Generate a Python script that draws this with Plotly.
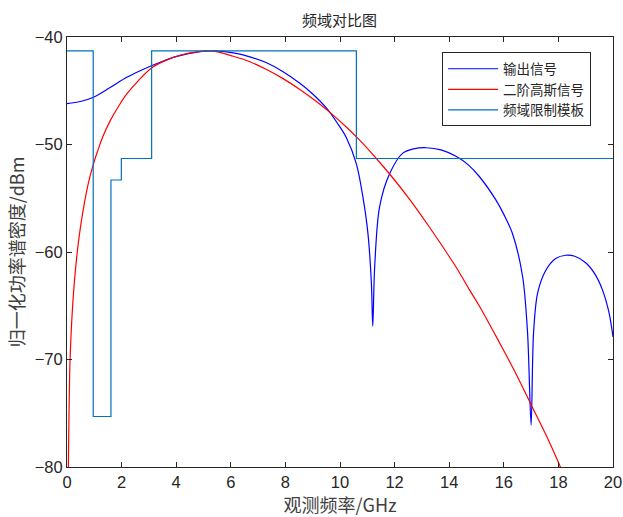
import plotly.graph_objects as go

# Output signal (blue)
out_f = [0, 0.49, 0.97, 1.58, 2.19, 2.8, 3.41, 4.02, 4.87, 5.35, 6.09, 6.7, 7.31, 7.9, 8.53, 9.0,
         9.5, 9.9, 10.23, 10.6, 10.84, 11.02, 11.15, 11.2, 11.27, 11.45, 11.82, 12.3, 12.7, 13.16,
         13.7, 14.25, 14.7, 15.11, 15.72, 16.0, 16.32, 16.69, 16.87, 17.0, 17.09, 17.24, 17.54,
         17.9, 18.27, 18.6, 19.0, 19.35, 19.61, 19.85, 20.0]
out_db = [-46.2, -46.0, -45.6, -44.7, -43.75, -43.0, -42.35, -41.8, -41.36, -41.3, -41.48, -41.85,
          -42.4, -43.2, -44.3, -45.3, -46.6, -48.0, -49.35, -51.8, -54.9, -58.2, -62.9, -66.9,
          -61.4, -55.8, -52.7, -50.8, -50.4, -50.3, -50.5, -51.1, -51.9, -53.0, -55.2, -56.5,
          -58.3, -62.3, -67.5, -76.1, -67.5, -63.8, -61.7, -60.6, -60.3, -60.4, -61.0, -62.1,
          -63.5, -65.6, -67.9]

# Second-order Gaussian (red)
gau_f = [0.03, 0.05, 0.08, 0.11, 0.17, 0.26, 0.38, 0.47, 0.56, 0.73, 0.85, 0.97, 1.11, 1.3,
         1.58, 1.9, 2.19, 2.6, 3.11, 3.6, 4.14, 4.7, 5.3, 6.09, 6.7, 7.31, 7.9, 8.53, 9.1, 9.62,
         10.2, 10.72, 11.33, 11.9, 12.55, 13.28, 13.89, 14.3, 14.74, 15.11, 15.6, 16.08, 16.5,
         17.0, 17.6, 18.03, 18.2]
gau_db = [-84, -79.9, -74, -70.2, -66.6, -63.1, -59.9, -58.1, -56.6, -54.2, -52.9, -51.8, -50.7,
          -49.35, -47.8, -46.4, -45.3, -44.1, -42.85, -42.2, -41.7, -41.4, -41.3, -41.79, -42.3,
          -43.03, -43.85, -44.88, -45.93, -46.99, -48.3, -49.6, -51.3, -53.0, -55.1, -57.7,
          -60.0, -61.6, -63.5, -65.05, -67.3, -69.55, -71.6, -74.2, -77.3, -79.75, -80.8]

# FCC indoor mask (step)
mask_f = [0, 0.96, 1.61, 1.99, 3.1, 10.6, 20]
mask_db = [-41.3, -75.3, -53.3, -51.3, -41.3, -51.3, -51.3]

names = ["输出信号", "二阶高斯信号", "频域限制模板"]

fig = go.Figure()
fig.add_trace(go.Scatter(x=out_f, y=out_db, mode="lines", name=names[0],
                         line=dict(color="#0000FF", width=1.2, shape="spline", smoothing=0.9)))
fig.add_trace(go.Scatter(x=gau_f, y=gau_db, mode="lines", name=names[1],
                         line=dict(color="#FF0000", width=1.2, shape="spline", smoothing=1.0)))
fig.add_trace(go.Scatter(x=mask_f, y=mask_db, mode="lines", name=names[2],
                         line=dict(color="#0072BD", width=1.2, shape="hv")))

axis_common = dict(showline=True, linecolor="#262626", linewidth=1, mirror="ticks",
                   ticks="inside", ticklen=5, tickcolor="#262626", showgrid=False,
                   zeroline=False, automargin=False,
                   tickfont=dict(family="Liberation Sans, Arial", size=16.5, color="#262626"))

label_font = dict(family="Noto Sans CJK SC", size=18, color="#404040")

fig.update_layout(
    width=623, height=517,
    margin=dict(l=67, r=10, t=37, b=50),
    plot_bgcolor="white", paper_bgcolor="white",
    title=dict(text="频域对比图", x=0.545, xanchor="center", y=0.96, yanchor="middle",
               font=dict(family="Noto Sans CJK SC", size=15, color="#262626")),
    xaxis=dict(range=[0, 20], tickvals=list(range(0, 21, 2)),
               title=dict(text="观测频率/GHz", standoff=11, font=label_font),
               **axis_common),
    yaxis=dict(range=[-80, -40], tickvals=[-80, -70, -60, -50, -40],
               title=dict(text="归一化功率谱密度/dBm", standoff=5, font=label_font),
               **axis_common),
    legend=dict(x=0.687, y=0.964, xanchor="left", yanchor="top",
                bordercolor="#262626", borderwidth=1, bgcolor="white",
                font=dict(family="Noto Sans CJK SC", size=13.5, color="#262626"),
                tracegroupgap=0, itemwidth=50),
    showlegend=True,
)

fig.write_html("out.html")
